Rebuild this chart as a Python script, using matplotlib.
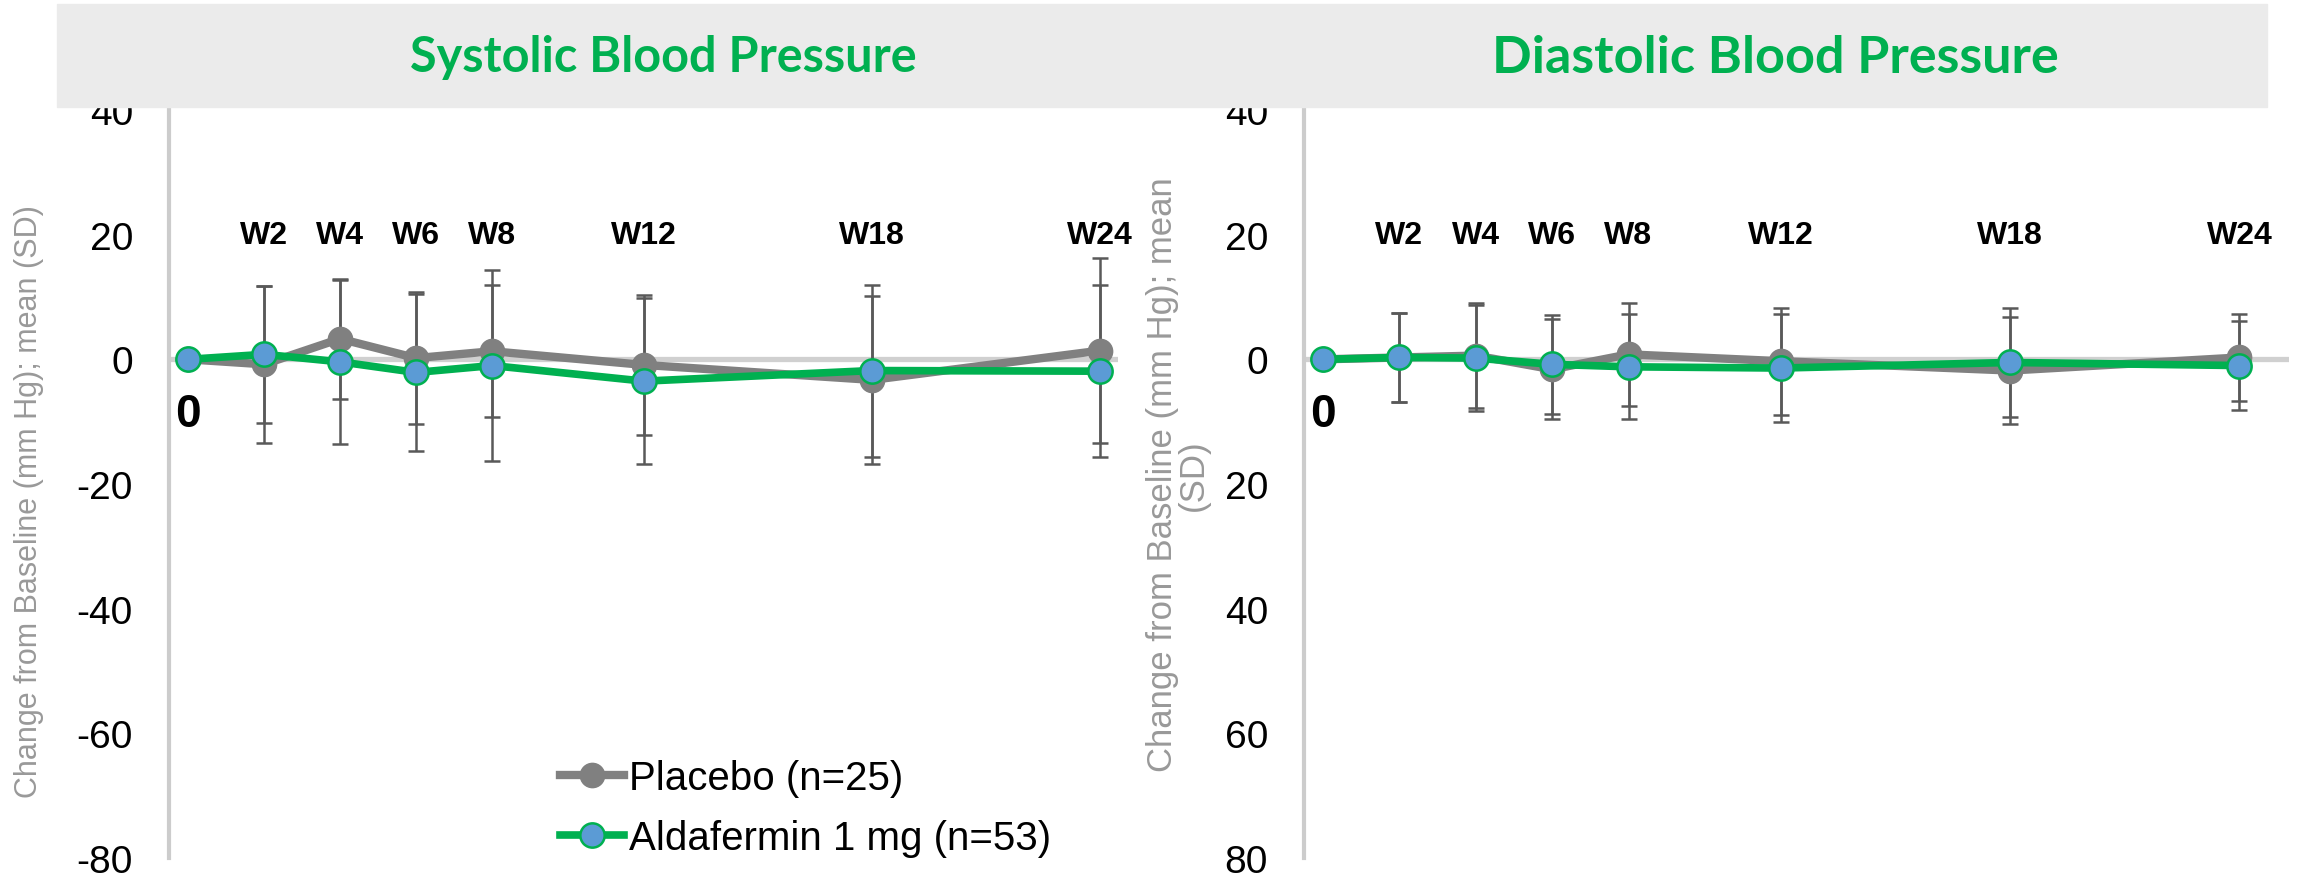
import numpy as np
import matplotlib
matplotlib.use("Agg")
import matplotlib.pyplot as plt
from matplotlib.patches import Rectangle

# visits (weeks) and labels
weeks = [0, 2, 4, 6, 8, 12, 18, 24]
week_labels = ["", "W2", "W4", "W6", "W8", "W12", "W18", "W24"]

# Systolic BP change from baseline, mean and SD
sys_placebo = [0, -0.8, 3.3, 0.2, 1.3, -0.9, -3.3, 1.4]
sys_placebo_sd = [0, 12.6, 9.6, 10.6, 10.6, 11.3, 13.5, 14.8]
sys_alda = [0, 0.8, -0.4, -2.1, -1.0, -3.5, -1.8, -1.9]
sys_alda_sd = [0, 11.0, 13.2, 12.6, 15.3, 13.3, 13.8, 13.8]

# Diastolic BP change from baseline, mean and SD
dia_placebo = [0, 0.3, 0.6, -1.6, 0.8, -0.3, -1.8, 0.3]
dia_placebo_sd = [0, 7.1, 8.4, 8.0, 8.3, 8.6, 8.6, 7.0]
dia_alda = [0, 0.3, 0.2, -0.8, -1.2, -1.4, -0.5, -1.0]
dia_alda_sd = [0, 7.1, 8.5, 7.9, 8.4, 8.7, 8.8, 7.2]

yticks = [40, 20, 0, -20, -40, -60, -80]
sys_ticklabels = ["40", "20", "0", "-20", "-40", "-60", "-80"]
dia_ticklabels = ["40", "20", "0", "20", "40", "60", "80"]

GRAY = "#808080"
GREEN = "#00b050"
BLUE = "#5b9bd5"
ERR = "#595959"

plt.rcParams["font.family"] = ["Liberation Sans", "DejaVu Sans"]

W, H = 2301, 879
fig = plt.figure(figsize=(W / 100, H / 100), dpi=100)


def fx(px):
    return px / W


def fy(py):
    return 1 - py / H


# grey header band
fig.patches.append(Rectangle((fx(57), fy(108)), fx(2267 - 57), (108 - 5) / H,
                             transform=fig.transFigure, color="#ebebeb", zorder=0))
fig.text(fx(663), fy(72), "Systolic Blood Pressure", color=GREEN, fontsize=35,
         fontweight="bold", family=["Lato", "DejaVu Sans"], ha="center", va="baseline")
fig.text(fx(1775), fy(73), "Diastolic Blood Pressure", color=GREEN, fontsize=37.5,
         fontweight="bold", family=["Lato", "DejaVu Sans"], ha="center", va="baseline")


def panel(left_px, right_px, xmax, placebo, placebo_sd, alda, alda_sd, ticklabels):
    ax = fig.add_axes([fx(left_px), fy(859), fx(right_px - left_px), (859 - 111) / H])
    ax.set_xlim(-0.5, xmax)
    ax.set_ylim(-80, 40)
    ax.patch.set_alpha(0)
    for s in ["top", "right", "bottom"]:
        ax.spines[s].set_visible(False)
    ax.spines["left"].set_color("#cccccc")
    ax.spines["left"].set_linewidth(3)
    ax.set_xticks([])
    ax.set_yticks(yticks)
    ax.set_yticklabels(ticklabels)
    ax.tick_params(axis="y", length=0, pad=26, labelsize=28)

    ax.axhline(0, color="#d0d0d0", lw=3.8, zorder=1)

    ax.errorbar(weeks[1:], placebo[1:], yerr=placebo_sd[1:], fmt="none", ecolor=ERR,
                elinewidth=1.8, capsize=5.5, capthick=1.8, zorder=2)
    ax.errorbar(weeks[1:], alda[1:], yerr=alda_sd[1:], fmt="none", ecolor=ERR,
                elinewidth=1.8, capsize=5.5, capthick=1.8, zorder=2)

    ax.plot(weeks, placebo, color=GRAY, lw=6, marker="o", markersize=17.5,
            markerfacecolor=GRAY, markeredgecolor=GRAY, label="Placebo (n=25)", zorder=3)
    ax.plot(weeks, alda, color=GREEN, lw=5.5, marker="o", markersize=17.5,
            markerfacecolor=BLUE, markeredgecolor=GREEN, markeredgewidth=1.8,
            label="Aldafermin 1 mg (n=53)", zorder=4)

    for wk, lab in zip(weeks, week_labels):
        if lab:
            ax.text(wk, 20, lab, ha="center", va="center", fontsize=23, fontweight="bold")
    ax.text(0, -8.8, "0", ha="center", va="center", fontsize=33, fontweight="bold")
    return ax


ax1 = panel(169, 1118, 24.47, sys_placebo, sys_placebo_sd, sys_alda, sys_alda_sd, sys_ticklabels)
ax2 = panel(1304, 2289, 25.3, dia_placebo, dia_placebo_sd, dia_alda, dia_alda_sd, dia_ticklabels)

fig.text(fx(29), fy(502), "Change from Baseline (mm Hg); mean (SD)", rotation=90,
         color="#999999", fontsize=22, ha="center", va="center")
fig.text(fx(1178), fy(475), "Change from Baseline (mm Hg); mean\n(SD)", rotation=90,
         color="#999999", fontsize=25, ha="center", va="center", multialignment="center",
         linespacing=0.95)

ax1.legend(loc="upper left", bbox_to_anchor=(fx(560), fy(760)), bbox_transform=fig.transFigure,
           frameon=False, fontsize=29, handlelength=1.6, handletextpad=0.12,
           labelspacing=0.55, borderpad=0, borderaxespad=0, numpoints=1)

fig.savefig("out.png", dpi=100)
